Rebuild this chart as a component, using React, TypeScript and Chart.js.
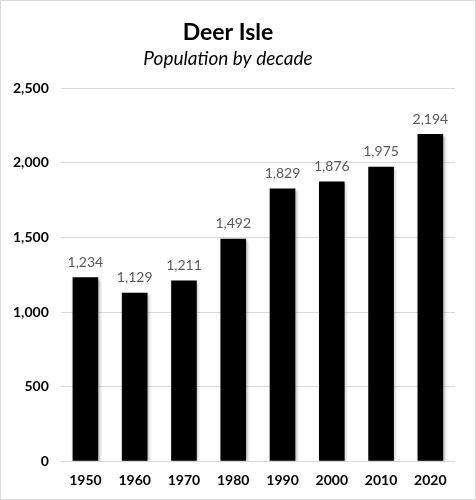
import { useEffect, useRef } from 'react'
import { Chart, registerables, Plugin } from 'chart.js'

Chart.register(...registerables)

const decades = ['1950', '1960', '1970', '1980', '1990', '2000', '2010', '2020']
const population = [1234, 1129, 1211, 1492, 1829, 1876, 1975, 2194]
const yTicks = [0, 500, 1000, 1500, 2000, 2500]

const FONT = "Lato, 'Open Sans', sans-serif"

// soft shadow behind the bars
const barShadow: Plugin<'bar'> = {
  id: 'barShadow',
  beforeDatasetsDraw(chart) {
    const { ctx } = chart
    ctx.save()
    ctx.shadowColor = 'rgba(0,0,0,0.3)'
    ctx.shadowBlur = 3
    ctx.shadowOffsetX = 1.5
    ctx.shadowOffsetY = 1.5
  },
  afterDatasetsDraw(chart) {
    chart.ctx.restore()
  },
}

// Numbers drawn above each bar
const barLabels: Plugin<'bar'> = {
  id: 'barLabels',
  afterDatasetsDraw(chart) {
    const { ctx } = chart
    const meta = chart.getDatasetMeta(0)
    ctx.save()
    ctx.font = `14px ${FONT}`
    ctx.fillStyle = '#595959'
    ctx.textAlign = 'center'
    ctx.textBaseline = 'bottom'
    meta.data.forEach((bar, i) => {
      ctx.fillText(population[i].toLocaleString('en-US'), bar.x, bar.y - 8)
    })
    ctx.restore()
  },
}

export default function App() {
  const chartRef = useRef<HTMLCanvasElement>(null)
  const chartInstance = useRef<Chart | null>(null)

  useEffect(() => {
    if (!chartRef.current) return
    if (chartInstance.current) chartInstance.current.destroy()

    chartInstance.current = new Chart(chartRef.current, {
      type: 'bar',
      data: {
        labels: decades,
        datasets: [
          {
            label: 'Population',
            data: population,
            backgroundColor: '#000000',
            categoryPercentage: 1,
            barPercentage: 0.52,
          },
        ],
      },
      options: {
        responsive: false,
        animation: false,
        layout: { padding: { left: 0, right: 20, top: 8, bottom: 7 } },
        plugins: {
          legend: { display: false },
          tooltip: { enabled: false },
          title: {
            display: true,
            text: 'Deer Isle',
            color: '#000',
            font: { family: FONT, size: 23, weight: 'bold' },
            padding: { top: 10, bottom: 1 },
          },
          subtitle: {
            display: true,
            text: 'Population by decade',
            color: '#000',
            font: { family: FONT, size: 19, style: 'italic' },
            padding: { bottom: 18 },
          },
        },
        scales: {
          x: {
            grid: { display: false },
            border: { display: false },
            ticks: {
              color: '#000',
              font: { family: FONT, size: 14, weight: 'bold' },
              padding: 3,
            },
          },
          y: {
            min: 0,
            max: 2500,
            afterBuildTicks(axis) {
              axis.ticks = yTicks.map(v => ({ value: v }))
            },
            grid: { color: '#d9d9d9', lineWidth: 1, drawTicks: false },
            border: { display: false },
            ticks: {
              color: '#000',
              font: { family: FONT, size: 14, weight: 'bold' },
              padding: 12,
              callback: v => Number(v).toLocaleString('en-US'),
            },
          },
        },
      },
      plugins: [barShadow, barLabels],
    })

    return () => {
      if (chartInstance.current) {
        chartInstance.current.destroy()
        chartInstance.current = null
      }
    }
  }, [])

  return (
    <div
      style={{
        position: 'absolute',
        left: 0,
        top: 0,
        width: 476,
        height: 500,
        boxSizing: 'border-box',
        border: '1px solid #d9d9d9',
        background: '#fff',
      }}
    >
      <canvas ref={chartRef} width={474} height={498} />
    </div>
  )
}
